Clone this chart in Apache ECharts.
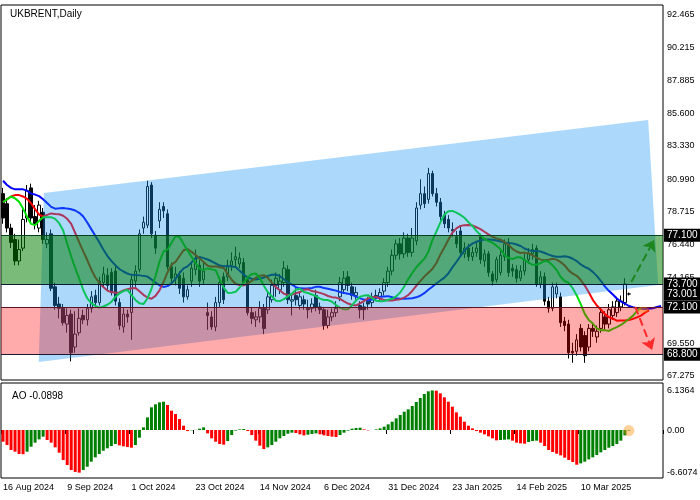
<!DOCTYPE html>
<html><head><meta charset="utf-8">
<script src="https://cdn.jsdelivr.net/npm/echarts@6/dist/echarts.min.js"></script>
<style>html,body{margin:0;padding:0;background:#fff}#c{width:700px;height:500px}</style>
</head><body><div id="c"></div>
<script>
// ---- DATA ----
const ohlc = [ // [open, close, low, high]
[80.0,78.3,77.9,80.4],[79.3,77.6,77.3,79.7],[77.6,76.6,76.2,77.9],[76.8,75.3,75.0,77.2],[75.3,76.1,75.0,76.8],
[76.2,78.2,76.0,78.9],[78.3,80.2,78.0,80.6],[80.4,78.3,78.0,80.7],[78.4,77.9,77.5,79.2],[77.6,79.2,77.3,79.5],
[78.7,76.8,76.5,79.0],[76.5,76.8,76.2,77.3],[77.2,73.4,73.2,77.5],[73.5,72.2,71.9,73.8],[72.3,72.0,71.3,72.8],
[72.0,71.0,70.8,72.3],[70.9,71.5,70.3,72.0],[71.6,68.9,68.3,71.9],[69.3,70.2,68.9,71.8],[70.3,71.3,70.1,72.0],
[71.5,71.2,70.9,71.9],[71.2,72.0,70.8,72.3],[72.0,72.8,71.7,73.2],[72.9,72.4,72.2,73.3],[72.4,73.9,72.2,74.2],
[73.8,74.4,73.5,74.9],[74.3,73.6,73.2,74.8],[74.5,73.1,72.9,74.8],[74.6,72.5,72.2,75.0],[72.4,70.8,70.5,72.7],
[70.7,71.6,70.3,72.0],[71.6,71.4,71.0,71.9],[71.7,74.0,69.8,74.3],[73.9,74.6,73.5,75.0],[74.7,77.2,74.5,77.5],
[77.6,78.0,77.2,78.4],[77.8,80.5,77.6,80.9],[80.6,77.2,76.9,80.8],[77.1,76.2,75.8,77.4],[78.1,78.9,77.6,79.4],
[79.1,78.8,78.3,79.4],[78.6,74.9,74.7,78.9],[74.9,74.1,73.8,75.2],[74.1,74.4,73.6,74.9],[74.3,73.4,73.0,74.6],
[74.1,72.8,72.4,74.5],[72.8,73.3,72.6,73.6],[73.9,74.8,73.5,75.3],[74.7,75.5,74.3,76.1],[75.0,73.9,73.5,75.4],
[74.0,74.6,73.7,75.2],[71.7,71.5,70.5,72.4],[71.4,70.7,70.5,71.8],[70.7,72.4,70.4,72.8],[72.4,73.8,72.1,74.2],
[74.2,72.6,72.3,74.5],[74.2,75.0,73.9,75.4],[75.0,75.3,74.6,75.9],[75.4,75.6,74.8,76.3],[75.1,75.5,74.8,75.9],
[75.2,73.8,73.6,75.5],[74.0,71.7,71.5,74.2],[71.7,71.3,70.9,72.1],[71.2,71.4,70.7,71.8],[71.4,72.0,71.0,72.5],
[72.0,70.6,70.2,72.3],[71.9,72.8,71.6,73.2],[72.6,73.6,72.4,74.0],[73.6,74.1,72.8,74.5],[73.3,73.9,73.0,74.4],
[73.8,74.8,73.5,75.3],[74.7,72.6,72.3,75.0],[72.5,72.6,71.5,73.0],[72.9,72.6,72.2,73.4],[72.2,72.8,71.9,73.2],
[72.6,72.3,71.9,72.9],[72.0,71.9,71.3,72.6],[72.0,72.3,71.7,72.7],[72.9,72.1,71.8,73.3],[72.1,71.9,71.6,72.4],
[71.9,70.8,70.5,72.1],[70.8,71.4,70.6,71.9],[71.4,71.7,71.1,72.0],[71.7,72.0,71.4,72.5],[72.8,73.8,72.5,74.2],
[73.3,74.1,73.0,74.6],[74.2,73.6,73.2,74.6],[73.5,72.9,72.6,73.8],[72.9,73.1,72.6,73.5],[72.2,71.9,71.3,72.5],
[72.1,71.9,71.2,72.4],[72.5,72.3,71.9,72.8],[72.4,72.8,72.1,73.1],[72.9,72.8,72.5,73.3],[72.8,73.1,72.5,73.4],
[73.2,73.8,72.9,74.1],[73.8,74.6,73.5,74.9],[74.6,75.7,74.3,76.1],[75.7,76.5,75.4,76.8],[76.5,75.8,75.4,76.9],
[75.8,76.9,75.5,77.3],[76.9,75.9,75.6,77.2],[75.9,76.9,75.6,77.6],[76.7,79.0,76.4,79.4],[79.2,80.0,78.9,81.0],
[80.0,79.3,79.0,80.5],[79.6,81.4,79.3,81.8],[81.4,80.0,79.8,81.6],[80.0,79.4,79.1,80.4],[79.4,78.4,78.1,79.7],
[78.5,77.9,77.6,78.8],[78.2,77.6,77.3,78.5],[77.5,77.4,77.0,78.0],[77.0,76.5,76.2,77.4],[77.4,75.9,75.6,77.7],
[75.8,76.2,75.5,76.6],[76.2,75.6,75.3,76.5],[75.6,75.9,75.3,76.3],[75.9,76.2,75.6,76.6],[77.0,75.4,75.1,77.2],
[75.3,75.8,74.9,76.1],[75.8,74.5,74.2,76.0],[74.4,73.9,73.6,74.6],[74.0,75.4,73.8,75.6],[74.5,75.7,74.3,76.0],
[75.6,76.5,75.3,76.8],[76.6,74.5,74.2,76.9],[74.8,74.6,74.2,75.1],[74.7,74.1,73.8,75.0],[74.1,74.6,73.9,75.0],
[74.6,75.4,74.3,75.8],[75.4,75.8,75.1,76.2],[75.8,76.1,75.4,76.5],[76.2,73.7,73.5,76.4],[73.7,74.2,73.4,74.6],
[74.2,72.5,72.2,74.5],[72.5,72.0,71.7,72.8],[72.0,73.5,71.8,73.8],[73.0,73.5,72.7,73.8],[72.8,71.0,70.7,73.1],
[71.1,70.8,70.4,71.4],[70.9,68.9,68.5,71.2],[69.0,68.9,68.2,69.6],[69.0,69.8,68.7,70.2],[70.6,69.3,69.0,70.9],
[70.1,68.7,68.2,70.4],[69.3,70.6,69.0,70.9],[70.6,70.4,70.0,71.0],[70.0,70.4,69.6,70.8],[70.6,71.7,70.3,72.0],
[71.4,70.9,70.5,71.8],[70.9,71.9,70.6,72.3],[71.5,72.1,71.2,72.5],[71.7,72.5,71.4,72.8],[72.1,72.5,71.8,72.9],
[72.4,73.7,72.2,74.1],[73.0,73.0,72.9,73.1]
];
const aoValues = [
-1.81,-2.33,-3.10,-3.36,-3.72,-3.75,-3.36,-2.59,-1.96,-1.45,-1.03,-1.55,-1.96,-2.69,-3.52,-4.65,-5.43,-6.20,-6.50,-6.61,
-6.20,-5.69,-4.91,-4.24,-3.72,-3.21,-2.84,-2.48,-2.17,-2.38,-2.53,-2.64,-2.74,-2.33,-1.19,0.41,1.96,3.52,3.98,4.29,
4.39,3.88,3.00,2.48,1.71,0.67,-0.16,-0.05,0.02,0.21,0.41,-0.52,-1.29,-1.81,-2.17,-2.27,-1.71,-0.78,-0.10,0.10,
0.16,-0.16,-0.78,-1.65,-2.43,-2.95,-2.69,-2.33,-1.81,-1.29,-0.93,-0.57,-0.41,-0.47,-0.67,-0.83,-0.72,-0.62,-0.52,-0.67,
-0.83,-0.93,-1.03,-1.09,-0.78,-0.41,-0.10,0.21,0.31,0.36,0.10,-0.05,0.00,0.10,0.26,0.52,0.88,1.29,1.81,2.33,
2.84,3.21,3.72,4.34,4.96,5.58,6.00,6.1364,6.10,5.69,5.07,4.39,3.62,2.74,2.07,1.29,0.67,0.26,-0.16,-0.41,
-0.67,-0.98,-1.29,-1.60,-1.55,-1.50,-1.45,-1.65,-1.96,-2.07,-2.12,-1.86,-1.71,-1.65,-1.96,-2.48,-3.10,-3.41,-3.67,-3.93,
-4.29,-4.65,-4.96,-5.38,-5.17,-4.91,-4.55,-4.24,-3.88,-3.46,-3.10,-2.74,-2.48,-2.17,-1.65,-0.83,-0.0898
];
// Alligator leading values and seeds
const jawLead = [80.9,80.6,80.4,80.3,80.3,80.3,80.2,80.0];
const teethLead = [79.4,79.6,79.8,79.9,79.9];
const lipsLead = [79.4,79.6,79.8];
const mainTickLabels = ['92.465','90.215','87.885','85.600','83.330','80.990','78.715','76.440','74.165','71.825','69.550','67.275'];
const levels = [77.1, 73.7, 72.1, 68.8];
const levelLabels = ['77.100','73.700','72.100','68.800'];
const currentPrice = 73.001;
const aoTickLabels = ['6.1364','0.00','-6.6074'];
const greenZone = [73.7, 77.1];
const redZone = [68.8, 72.1];
const channelX = [10.2, 160.8, 163.3, 8.9];
const channelY = [80.04, 85.14, 73.63, 68.25];
const upArrow = [[156.6, 73.83],[162.3, 76.77]];
const downArrow = [[157.6, 72.09],[161.8, 69.09]];
const holidays = ['2024-12-25','2025-01-01'];
const futureSlots = 8;

// ---- build categories ----
const MON = ['Jan','Feb','Mar','Apr','May','Jun','Jul','Aug','Sep','Oct','Nov','Dec'];
const cats = [];
let d = new Date(Date.UTC(2024,7,16));
while (cats.length < ohlc.length + futureSlots) {
  const iso = d.toISOString().slice(0,10);
  const wd = d.getUTCDay();
  if (wd !== 0 && wd !== 6 && holidays.indexOf(iso) < 0)
    cats.push(d.getUTCDate() + ' ' + MON[d.getUTCMonth()] + ' ' + d.getUTCFullYear());
  d = new Date(d.getTime() + 86400000);
}
const N = cats.length;

// ---- Alligator (SMMA of median price, shifted) ----
function alligator(period, shift, lead) {
  const out = new Array(N).fill(null);
  for (let i = 0; i < lead.length; i++) out[i] = lead[i];
  let s = lead[lead.length - 1];
  for (let k = 0; k < ohlc.length; k++) {
    const med = (ohlc[k][2] + ohlc[k][3]) / 2;
    s = (s * (period - 1) + med) / period;
    if (k + shift < N) out[k + shift] = +s.toFixed(3);
  }
  return out;
}
const jaw = alligator(13, 8, jawLead);
const teeth = alligator(8, 5, teethLead);
const lips = alligator(5, 3, lipsLead);

const FONT = 'Liberation Sans';
const NOLINE = {color:'rgba(0,0,0,0)', width:1, type:'solid'};
const labelLine = (v, txt, hi, line) => ({
  yAxis: v,
  lineStyle: line ? {color:'#0b1b33', width:1, type:'solid'} : NOLINE,
  label: hi ? {show:true, formatter: txt, position:'end', distance: 1, color:'#fff', backgroundColor:'#000',
               padding:[2,3,1,3], fontFamily: FONT, fontSize: 10}
            : {show:true, formatter: txt, position:'end', distance: 4, color:'#000', fontFamily: FONT, fontSize: 9}
});

const chart = echarts.init(document.getElementById('c'));
chart.setOption({
  animation: false,
  backgroundColor: '#fff',
  title: [{text:'UKBRENT,Daily', left: 5, top: 4, textStyle:{fontSize:10, fontWeight:'normal', fontFamily:FONT, color:'#000'}},
          {text:'AO -0.0898', left: 7, top: 386, textStyle:{fontSize:10, fontWeight:'normal', fontFamily:FONT, color:'#000'}}],
  grid: [
    {left: 1, right: 37, top: 5, height: 375, show: true, borderColor: '#000', borderWidth: 1},
    {left: 1, right: 37, top: 383, height: 95, show: true, borderColor: '#000', borderWidth: 1}
  ],
  xAxis: [
    {type:'category', gridIndex:0, data: cats, boundaryGap:true, axisLabel:{show:false}, axisTick:{show:false}, axisLine:{show:false}},
    {type:'value', gridIndex:0, min:-0.5, max:N-0.5, show:false},
    {type:'category', gridIndex:1, data: cats, boundaryGap:true,
     axisLine:{show:false},
     axisTick:{show:true, length:4, lineStyle:{color:'#000'}, interval:(i)=> i%16===0 && i<ohlc.length},
     axisLabel:{show:true, interval:(i)=> i%16===0 && i<ohlc.length, align:'left', margin:5, fontSize:9, fontFamily:FONT, color:'#000'}},
    {type:'value', gridIndex:1, min:-0.5, max:N-0.5, show:false}
  ],
  yAxis: [
    {type:'value', gridIndex:0, min:67.0, max:93.16, position:'right', splitLine:{show:false},
     axisLabel:{show:false}, axisTick:{show:false}, axisLine:{show:false}},
    {type:'value', gridIndex:1, min:-7.44, max:7.29, position:'right', splitLine:{show:false},
     axisLabel:{show:false}, axisTick:{show:false}, axisLine:{show:false}}
  ],
  series: [
    {type:'candlestick', xAxisIndex:0, yAxisIndex:0, z:2, barWidth:3,
     data: ohlc.map(r => [r[0], r[1], r[2], r[3]]),
     itemStyle:{color:'#fff', color0:'#000', borderColor:'#000', borderColor0:'#000', borderWidth:1}},
    {type:'line', xAxisIndex:0, yAxisIndex:0, z:3, data: jaw, showSymbol:false, lineStyle:{color:'#0000ff', width:2}},
    {type:'line', xAxisIndex:0, yAxisIndex:0, z:3, data: teeth, showSymbol:false, lineStyle:{color:'#ff0000', width:2}},
    {type:'line', xAxisIndex:0, yAxisIndex:0, z:3, data: lips, showSymbol:false, lineStyle:{color:'#00e000', width:2}},
    {type:'custom', xAxisIndex:1, yAxisIndex:0, z:4, data:[0], silent:true,
     renderItem: (params, api) => ({
       type:'polygon',
       shape:{points: channelX.map((x, i) => api.coord([x, channelY[i]]))},
       style:{fill:'rgba(30,150,245,0.37)'}
     })},
    {type:'line', xAxisIndex:0, yAxisIndex:0, z:10, data:[], silent:true,
     markArea:{silent:true, z:10, data:[
       [{yAxis:greenZone[0], itemStyle:{color:'rgba(0,125,0,0.52)', opacity:1}}, {yAxis:greenZone[1]}],
       [{yAxis:redZone[0], itemStyle:{color:'rgba(255,0,0,0.33)', opacity:1}}, {yAxis:redZone[1]}]
     ]}},
    {type:'line', xAxisIndex:0, yAxisIndex:0, z:11, data:[], silent:true,
     markLine:{silent:true, symbol:['none','none'], animation:false,
       data: mainTickLabels.map(t => labelLine(parseFloat(t), t, false, false))}},
    {type:'line', xAxisIndex:0, yAxisIndex:0, z:12, data:[], silent:true,
     markLine:{silent:true, symbol:['none','none'], animation:false,
       data: levels.map((v, i) => labelLine(v, levelLabels[i], true, true))
             .concat([labelLine(currentPrice, currentPrice.toFixed(3), true, false)])}},
    {type:'lines', coordinateSystem:'cartesian2d', xAxisIndex:1, yAxisIndex:0, z:13,
     symbol:['none','arrow'], symbolSize:11,
     data:[{coords: upArrow, lineStyle:{color:'#1d861d'}}, {coords: downArrow, lineStyle:{color:'#ff2a2a'}}],
     lineStyle:{width:2, type:'dashed', opacity:1}},
    {type:'scatter', xAxisIndex:1, yAxisIndex:0, z:13, symbolSize:[12,6],
     data:[[159.5, 71.9]], itemStyle:{color:'rgba(255,140,0,0.5)'}},
    {type:'bar', xAxisIndex:2, yAxisIndex:1, barWidth:3, data: aoValues,
     itemStyle:{color: (p) => (p.dataIndex > 0 && aoValues[p.dataIndex] >= aoValues[p.dataIndex-1]) ? '#008000' : '#ff0000'},
     markLine:{silent:true, symbol:['none','none'], animation:false,
       data: aoTickLabels.map(t => labelLine(parseFloat(t), t, false, false))}},
    {type:'scatter', xAxisIndex:3, yAxisIndex:1, z:8, symbolSize:11,
     data:[[ohlc.length-1, aoValues[aoValues.length-1]]], itemStyle:{color:'rgba(255,140,0,0.5)'}}
  ]
});
</script></body></html>
